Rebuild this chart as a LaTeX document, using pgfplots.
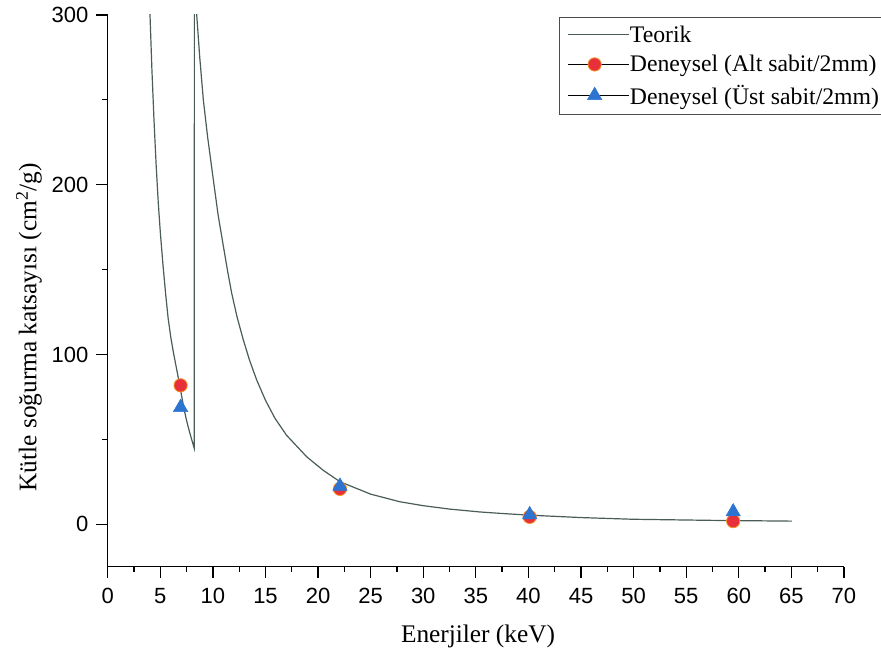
\documentclass[border=0pt]{standalone}
\usepackage{fontspec}
\setmainfont{Liberation Serif}
\newfontfamily\arialfont{Liberation Sans}
\usepackage{pgfplots}
\pgfplotsset{compat=1.18}

\definecolor{curvecol}{RGB}{74,92,88}
\definecolor{redmark}{RGB}{232,48,58}
\definecolor{rededge}{RGB}{245,150,40}
\definecolor{bluemark}{RGB}{44,116,208}

\pgfplotstableread{
x y
3.90 324
4.02 300
4.20 268
4.40 238
4.60 212
4.80 190
4.91 180
5.00 172
5.25 153
5.50 136
5.75 121
6.00 110
6.25 101
6.50 93
6.75 85
7.00 76.5
7.25 68
7.50 61
7.75 55
8.00 49.5
8.23 44.7
8.24 345
8.30 315
8.46 300
8.75 275
9.09 250
9.50 228
10.04 203
10.50 182
10.99 164
11.40 149
11.79 136
12.30 122
12.89 108.6
13.50 96.3
14.16 85
15.00 73
15.90 62.4
17.00 52.4
18.92 39.7
20.50 31.7
22.09 25.0
25.00 17.7
27.79 13.2
30.00 10.9
32.50 8.9
35.39 7.2
37.50 6.3
40.15 5.3
45.00 3.9
49.94 2.9
57.50 2.25
65.05 1.8
}\teorik

\pgfplotstableread{
x y
6.93 81.8
22.08 20.8
40.12 4.3
59.47 1.8
}\alt

\pgfplotstableread{
x y
6.93 68.8
22.08 22.4
40.12 5.6
59.47 7.3
}\ust

\begin{document}
\begin{tikzpicture}
\useasboundingbox (-80.8pt,-68.5pt) rectangle (580pt,425pt);
\begin{axis}[
  at={(0,0)}, anchor=south west,
  scale only axis, width=552.2pt, height=413.8pt,
  xmin=0, xmax=70, ymin=-25, ymax=300,
  axis x line*=bottom, axis y line*=left,
  axis line style={line width=1.1pt, black},
  xtick align=outside, ytick align=outside,
  xtick={0,5,...,70}, ytick={0,100,200,300},
  minor x tick num=1, minor y tick num=1,
  major tick length=8.5pt, minor tick length=4pt,
  tick style={line width=1pt, black},
  ticklabel style={font=\arialfont\fontsize{16.5}{18}\selectfont},
  xticklabel shift=4pt, yticklabel shift=2.5pt,
  /pgf/number format/assume math mode=true,
  xlabel={Enerjiler (keV)},
  ylabel={Kütle soğurma katsayısı (cm\textsuperscript{2}/g)},
  label style={font=\fontsize{19}{22}\selectfont},
  xlabel style={at={(axis description cs:0.503,-0.1256)}, anchor=center},
  ylabel style={at={(axis description cs:-0.107,0.434)}, anchor=center},
  legend style={at={(0.6133,0.996)}, anchor=north west, draw=black!70,
    line width=0.6pt, font=\fontsize{17.8}{20}\selectfont,
    inner xsep=5.8pt, inner ysep=4pt, row sep=4.4pt,
    nodes={inner xsep=0pt},
    cells={anchor=west}},
]
\addplot[curvecol, line width=0.9pt,
  legend image code/.code={\draw[curvecol,line width=0.8pt](0pt,0pt)--(40pt,0pt);
    \path (0pt,0pt) -- (46pt,0pt);}]
  table {\teorik};
\addlegendentry{Teorik}
\addplot[only marks, mark=*, mark size=5pt,
  mark options={fill=redmark, draw=rededge, line width=0.6pt},
  legend image code/.code={\draw[curvecol,line width=0.8pt](0pt,0pt)--(40pt,0pt);
    \path (0pt,0pt) -- (46pt,0pt);
    \draw[only marks, mark=*, mark size=5pt, mark options={fill=redmark, draw=rededge, line width=0.6pt}] plot coordinates {(20pt,0pt)};}]
  table {\alt};
\addlegendentry{Deneysel (Alt sabit/2mm)}
\addplot[only marks, mark=triangle*, mark size=6.2pt,
  mark options={fill=bluemark, draw=bluemark, line width=0.4pt},
  legend image code/.code={\draw[curvecol,line width=0.8pt](0pt,0pt)--(40pt,0pt);
    \path (0pt,0pt) -- (46pt,0pt);
    \draw[only marks, mark=triangle*, mark size=6.2pt, mark options={fill=bluemark, draw=bluemark, line width=0.4pt}] plot coordinates {(20pt,0pt)};}]
  table {\ust};
\addlegendentry{Deneysel (Üst sabit/2mm)}
\end{axis}
\end{tikzpicture}
\end{document}
